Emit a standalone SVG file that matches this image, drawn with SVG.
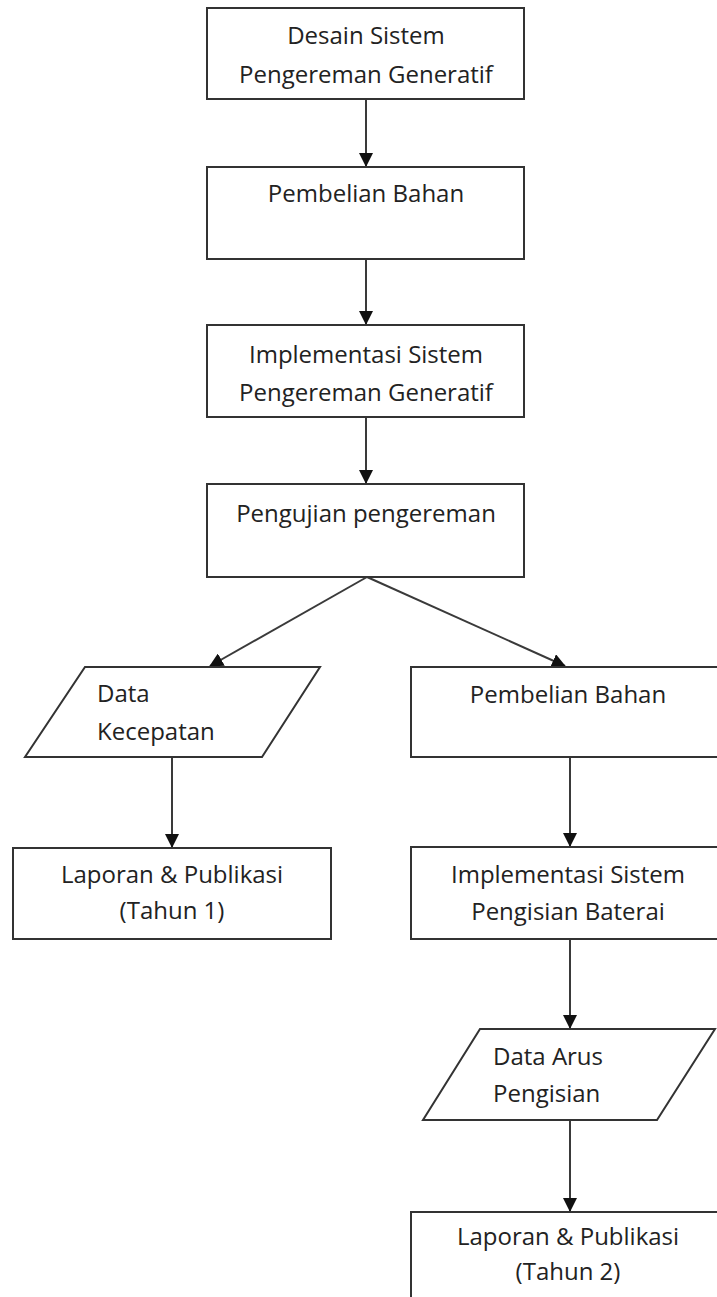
<svg xmlns="http://www.w3.org/2000/svg" width="717" height="1297" viewBox="0 0 717 1297">
  <style>
    .box { fill: #ffffff; stroke: #333333; stroke-width: 2; }
    .conn { fill: none; stroke: #3a3a3a; stroke-width: 2; }
    .t { font-family: "Open Sans", "Noto Sans", sans-serif; font-size: 24px; fill: #222222; }
    .c { text-anchor: middle; }
  </style>
  <defs>
    <marker id="ah" markerUnits="userSpaceOnUse" markerWidth="14" markerHeight="14" viewBox="0 0 14 14" refX="13" refY="7" orient="auto">
      <path d="M0,0 L14,7 L0,14 z" fill="#111111"/>
    </marker>
  </defs>
  <rect width="717" height="1297" fill="#ffffff"/>

  <g id="connectors">
    <line class="conn" x1="366" y1="99" x2="366" y2="166" marker-end="url(#ah)"/>
    <line class="conn" x1="366" y1="259" x2="366" y2="324" marker-end="url(#ah)"/>
    <line class="conn" x1="366" y1="417" x2="366" y2="483" marker-end="url(#ah)"/>
    <line class="conn" x1="367" y1="577" x2="210" y2="666" marker-end="url(#ah)"/>
    <line class="conn" x1="367" y1="577" x2="565" y2="666" marker-end="url(#ah)"/>
    <line class="conn" x1="172" y1="757" x2="172" y2="847" marker-end="url(#ah)"/>
    <line class="conn" x1="570" y1="757" x2="570" y2="846" marker-end="url(#ah)"/>
    <line class="conn" x1="570" y1="939" x2="570" y2="1028" marker-end="url(#ah)"/>
    <line class="conn" x1="570" y1="1120" x2="570" y2="1211" marker-end="url(#ah)"/>
  </g>

  <g id="n1">
    <rect class="box" x="207" y="8" width="317" height="91"/>
    <text class="t c" x="366" y="44">Desain Sistem</text>
    <text class="t c" x="366" y="83">Pengereman Generatif</text>
  </g>
  <g id="n2">
    <rect class="box" x="207" y="167" width="317" height="92"/>
    <text class="t c" x="366" y="202">Pembelian Bahan</text>
  </g>
  <g id="n3">
    <rect class="box" x="207" y="325" width="317" height="92"/>
    <text class="t c" x="366" y="363">Implementasi Sistem</text>
    <text class="t c" x="366" y="401">Pengereman Generatif</text>
  </g>
  <g id="n4">
    <rect class="box" x="207" y="484" width="317" height="93"/>
    <text class="t c" x="366" y="522">Pengujian pengereman</text>
  </g>
  <g id="n5">
    <polygon class="box" points="85,667 320,667 262,757 25,757"/>
    <text class="t" x="97" y="702">Data</text>
    <text class="t" x="97" y="740">Kecepatan</text>
  </g>
  <g id="n6">
    <rect class="box" x="13" y="848" width="318" height="91"/>
    <text class="t c" x="172" y="883">Laporan &amp; Publikasi</text>
    <text class="t c" x="172" y="919">(Tahun 1)</text>
  </g>
  <g id="n7">
    <rect class="box" x="411" y="667" width="330" height="90"/>
    <text class="t c" x="568" y="703">Pembelian Bahan</text>
  </g>
  <g id="n8">
    <rect class="box" x="411" y="847" width="330" height="92"/>
    <text class="t c" x="568" y="883">Implementasi Sistem</text>
    <text class="t c" x="568" y="920">Pengisian Baterai</text>
  </g>
  <g id="n9">
    <polygon class="box" points="480,1029 715,1029 657,1120 423,1120"/>
    <text class="t" x="493" y="1065">Data Arus</text>
    <text class="t" x="493" y="1102">Pengisian</text>
  </g>
  <g id="n10">
    <rect class="box" x="411" y="1212" width="330" height="120"/>
    <text class="t c" x="568" y="1245">Laporan &amp; Publikasi</text>
    <text class="t c" x="568" y="1280">(Tahun 2)</text>
  </g>
</svg>
